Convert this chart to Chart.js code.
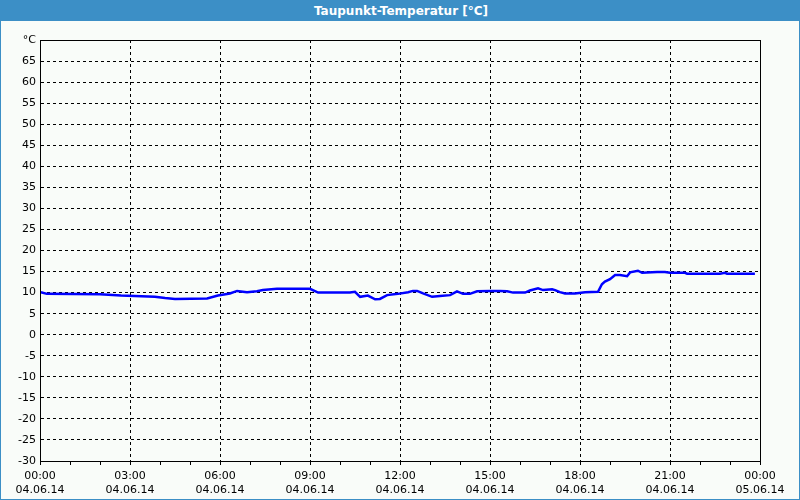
<!DOCTYPE html>
<html><head><meta charset="utf-8">
<script src="https://cdn.jsdelivr.net/npm/chart.js@4/dist/chart.umd.min.js"></script>
<style>
html,body{margin:0;padding:0;}
#wrap{position:relative;width:800px;height:500px;background:#f9fcf9;box-sizing:border-box;border:1px solid #3c8fc6;overflow:hidden;}
#title{position:absolute;left:0;top:0;width:800px;height:20px;background:#3c8fc6;color:#fff;font:bold 12px "DejaVu Sans",sans-serif;text-align:center;line-height:20px;z-index:2;}
#c{position:absolute;left:-1px;top:-1px;}
</style></head>
<body>
<div id="wrap">
<div id="title">Taupunkt-Temperatur [°C]</div>
<canvas id="c" width="800" height="500"></canvas>
</div>
<script>
const hours = [0.03,0.23,2.0,2.7,3.83,4.17,4.5,5.57,5.93,6.33,6.57,6.9,7.23,7.43,7.9,9.0,9.27,10.33,10.5,10.67,10.93,11.17,11.33,11.57,11.93,12.27,12.43,12.57,12.77,13.07,13.33,13.67,13.9,14.1,14.33,14.57,15.0,15.33,15.57,15.77,16.17,16.33,16.6,16.77,17.07,17.17,17.33,17.5,17.83,18.17,18.6,18.73,18.83,19.0,19.17,19.33,19.57,19.67,19.93,20.07,20.57,20.83,21.0,21.5,21.57,22.67,22.83,22.9,23.83];
const dewpoint = [10.1,9.7,9.6,9.3,9.0,8.7,8.5,8.6,9.3,9.8,10.4,10.1,10.3,10.6,10.9,10.9,10.0,10.0,10.2,9.0,9.3,8.4,8.5,9.4,9.7,10.1,10.4,10.4,9.8,9.0,9.2,9.4,10.3,9.7,9.7,10.3,10.4,10.4,10.3,10.0,10.0,10.5,11.0,10.6,10.8,10.6,10.1,9.8,9.8,10.1,10.2,12.0,12.6,13.2,14.2,14.2,13.9,14.8,15.2,14.7,14.9,14.9,14.7,14.7,14.5,14.5,14.7,14.5,14.5];
const timeLabels = ["00:00","03:00","06:00","09:00","12:00","15:00","18:00","21:00","00:00"];
const dateLabels = ["04.06.14","04.06.14","04.06.14","04.06.14","04.06.14","04.06.14","04.06.14","04.06.14","05.06.14"];
const yUnit = "°C";

const pts = hours.map((h,i)=>({x:h,y:dewpoint[i]}));
Chart.defaults.font.family = '"DejaVu Sans", sans-serif';
Chart.defaults.font.size = 11;
Chart.defaults.color = '#000';
new Chart(document.getElementById('c'), {
  type: 'line',
  data: { datasets: [{ data: pts, borderColor: '#0000ff', borderWidth: 2.5, pointRadius: 0, tension: 0, fill: false }] },
  options: {
    responsive: false, animation: false,
    layout: { padding: { top: 40, right: 40, left: 0, bottom: 0 } },
    plugins: { legend: { display: false }, tooltip: { enabled: false } },
    scales: {
      x: {
        type: 'linear', min: 0, max: 24,
        afterFit: s => { s.height = 39; },
        border: { color: '#000', width: 1, dash: [3,3] },
        grid: {
          color: c => (c.tick && c.tick.value % 3 === 0 && c.tick.value !== 0 && c.tick.value !== 24) ? '#000' : 'rgba(0,0,0,0)',
          tickColor: '#000', tickLength: 4, lineWidth: 1
        },
        ticks: {
          stepSize: 1, autoSkip: false, maxRotation: 0, padding: 5,
          callback: v => (v % 3 === 0) ? [timeLabels[v/3], dateLabels[v/3]] : ''
        }
      },
      y: {
        min: -30, max: 70,
        afterFit: s => { s.width = 40; },
        border: { color: '#000', width: 1, dash: [3,3] },
        grid: {
          color: c => (c.tick && c.tick.value > -30 && c.tick.value < 70) ? '#000' : 'rgba(0,0,0,0)',
          drawTicks: false, lineWidth: 1
        },
        ticks: { stepSize: 5, padding: 4, callback: v => v === 70 ? yUnit : v }
      }
    }
  },
  plugins: [{
    id: 'frame',
    afterDraw(chart) {
      const a = chart.chartArea, ctx = chart.ctx;
      ctx.save(); ctx.strokeStyle = '#000'; ctx.lineWidth = 1; ctx.setLineDash([]);
      ctx.strokeRect(Math.round(a.left)+0.5, Math.round(a.top)+0.5, Math.round(a.right-a.left), Math.round(a.bottom-a.top));
      ctx.restore();
    }
  }]
});
</script>
</body></html>
